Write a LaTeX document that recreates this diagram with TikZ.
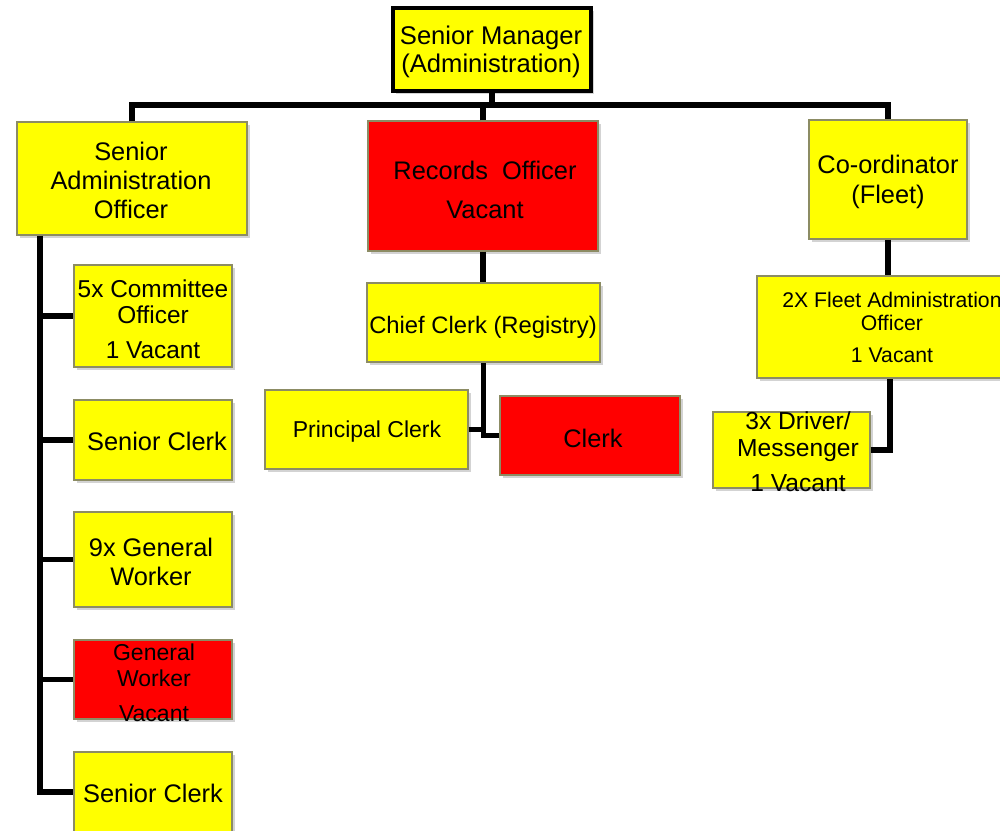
\documentclass[tikz,border=0pt]{standalone}
\usepackage{fontspec}
\setmainfont{Liberation Sans}
\usetikzlibrary{shadows}
\definecolor{boxyellow}{RGB}{255,255,0}
\definecolor{boxred}{RGB}{255,0,0}
\definecolor{boxedge}{RGB}{140,140,100}
\begin{document}
\begin{tikzpicture}[x=0.5pt,y=-0.5pt,
  box/.style={draw=boxedge, line width=0.6pt, inner sep=0pt,
    drop shadow={shadow xshift=1.3pt, shadow yshift=-1.3pt, opacity=0.35}},
  ybox/.style={box, fill=boxyellow},
  rbox/.style={box, fill=boxred},
  lbl/.style={inner sep=0pt, align=center, font=\fontsize{12.7}{14.5}\selectfont},
  wire/.style={line width=2.8pt, line join=miter}
]
\useasboundingbox (0,0) rectangle (1000,830);

% top level
\node[ybox, draw=black, line width=2pt, minimum width=99pt, minimum height=41.5pt] (mgr) at (492,49.5) {};
\node[lbl, font=\fontsize{12.8}{14}\selectfont] (mgrT) at (491,52) {Senior Manager\\(Administration)};

% second level
\node[ybox, minimum width=115pt, minimum height=56.5pt] (sao) at (132,178.5) {};
\node[lbl] (saoT) at (131,180) {Senior\\Administration\\Officer};

\node[rbox, minimum width=115pt, minimum height=65pt] (rec) at (483,186) {};
\node[lbl] (recT) at (485,189.5) {Records\ \ Officer\\[5pt]Vacant};

\node[ybox, minimum width=79pt, minimum height=59.5pt] (coord) at (888,179.5) {};
\node[lbl, font=\fontsize{12.7}{15}\selectfont] (coordT) at (888,182) {Co-ordinator\\(Fleet)};

% administration staff
\node[ybox, minimum width=79pt, minimum height=51pt] (com) at (153,316) {};
\node[lbl, font=\fontsize{12.2}{13}\selectfont] (comT) at (153,319.5) {5x Committee\\Officer\\[4.5pt]1 Vacant};

\node[ybox, minimum width=79pt, minimum height=40pt] (sc1) at (153,440) {};
\node[lbl] (sc1T) at (157,441) {Senior Clerk};

\node[ybox, minimum width=79pt, minimum height=47.5pt] (gw9) at (153,559.5) {};
\node[lbl] (gw9T) at (151,561.5) {9x General\\Worker};

\node[rbox, minimum width=79pt, minimum height=39.5pt] (gwv) at (153,679.5) {};
\node[lbl, font=\fontsize{11.5}{13}\selectfont] (gwvT) at (154,682.5) {General\\Worker\\[4.5pt]Vacant};

\node[ybox, minimum width=79pt, minimum height=40pt] (sc2) at (153,792) {};
\node[lbl] (sc2T) at (153,793) {Senior Clerk};

% registry
\node[ybox, minimum width=116.5pt, minimum height=39.5pt] (chief) at (483.5,322.5) {};
\node[lbl, font=\fontsize{11.9}{14}\selectfont] (chiefT) at (483,327) {Chief Clerk (Registry)};

\node[ybox, minimum width=101.5pt, minimum height=39.5pt] (prin) at (366.5,429.5) {};
\node[lbl, font=\fontsize{11.5}{14}\selectfont] (prinT) at (367,432) {Principal Clerk};

\node[rbox, minimum width=90pt, minimum height=39.5pt] (clerk) at (590,435.5) {};
\node[lbl] (clerkT) at (593,438) {Clerk};

% fleet
\node[ybox, minimum width=133pt, minimum height=51pt] (fleet) at (890,327) {};
\node[lbl, font=\fontsize{10.6}{11.5}\selectfont] (fleetT) at (892,327.5) {2X Fleet Administration\\Officer\\[4.5pt]1 Vacant};

\node[ybox, minimum width=78.5pt, minimum height=38pt] (drv) at (791.5,450) {};
\node[lbl, font=\fontsize{12.3}{13.5}\selectfont] (drvT) at (798,452) {3x Driver/\\Messenger\\[4pt]1 Vacant};

% connectors
\coordinate (bus) at (0,105);
\coordinate (spine) at (40,0);

\draw[wire] (sao.north) -- (sao.north |- bus) -- (coord.north |- bus) -- (coord.north);
\draw[wire] (mgr.south) -- (mgr.south |- bus);
\draw[wire] (rec.north) -- (rec.north |- bus);

\draw[wire] (sao.south -| spine) -- (spine |- sc2.west) -- (sc2.west);
\foreach \n in {com,sc1,gw9,gwv}
  \draw[wire] (spine |- \n.west) -- (\n.west);

\draw[wire] (rec.south) -- (rec.south |- chief.north);
\draw[wire] (prin.east) -| (chief.south);
\draw[wire] (clerk.west) -| (chief.south);

\draw[wire] (coord.south) -- (coord.south |- fleet.north);
\draw[wire] (drv.east) -| (fleet.south);
\end{tikzpicture}
\end{document}
